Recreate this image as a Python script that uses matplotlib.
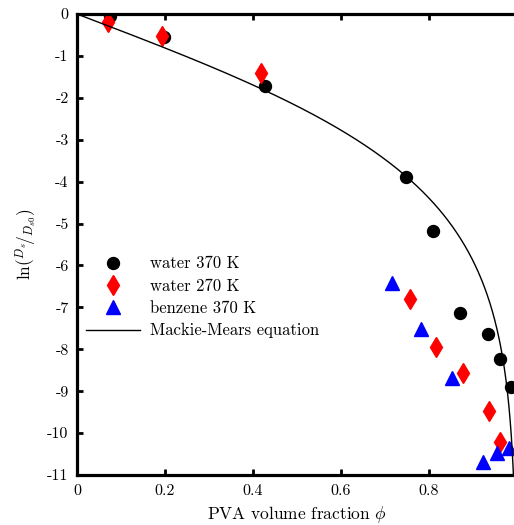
import numpy as np
import matplotlib
matplotlib.use("Agg")
import matplotlib.pyplot as plt

plt.rcParams["font.family"] = ["cmr10", "DejaVu Serif"]
plt.rcParams["mathtext.fontset"] = "cm"

# Self-diffusion data, ln(Ds/Ds0) vs PVA volume fraction
water370_phi = [0.075, 0.198, 0.427, 0.748, 0.809, 0.870, 0.934, 0.961, 0.986]
water370_ln = [-0.05, -0.55, -1.72, -3.89, -5.18, -7.14, -7.64, -8.23, -8.90]

water270_phi = [0.070, 0.193, 0.418, 0.757, 0.816, 0.877, 0.936, 0.961]
water270_ln = [-0.19, -0.52, -1.41, -6.80, -7.95, -8.57, -9.47, -10.21]

benzene370_phi = [0.716, 0.782, 0.852, 0.923, 0.955, 0.982]
benzene370_ln = [-6.42, -7.52, -8.69, -10.69, -10.48, -10.36]

xticks = [0, 0.2, 0.4, 0.6, 0.8]
xtick_labels = ["0", "0.2", "0.4", "0.6", "0.8"]
yticks = list(range(0, -12, -1))
ytick_labels = [str(v) for v in yticks]

# Mackie-Mears obstruction model: Ds/Ds0 = ((1 - phi) / (1 + phi))^2
phi = np.linspace(0, 0.9999, 2000)
mm = 2 * np.log((1 - phi) / (1 + phi))

fig = plt.figure(figsize=(5.14, 5.25), dpi=100)
ax = fig.add_axes([77 / 514, 50 / 525, 440 / 514, 461 / 525])

ax.plot(water370_phi, water370_ln, "o", color="black", ms=8.6, ls="none",
        label="water 370 K")
ax.plot(water270_phi, water270_ln, "d", color="#ff0000", ms=10.5, ls="none",
        label="water 270 K")
ax.plot(benzene370_phi, benzene370_ln, "^", color="#0000ff", ms=10, ls="none",
        label="benzene 370 K")
ax.plot(phi, mm, "-", color="black", lw=1.0, label="Mackie-Mears equation")

ax.set_xlim(0, 1)
ax.set_ylim(-11, 0)
ax.set_xticks(xticks)
ax.set_xticklabels(xtick_labels)
ax.set_yticks(yticks)
ax.set_yticklabels(ytick_labels)

for side in ["left", "bottom", "top"]:
    ax.spines[side].set_linewidth(2.3)
ax.spines["right"].set_visible(False)

ax.tick_params(axis="both", direction="in", length=4, width=2, labelsize=11.5,
               top=True, pad=6)
ax.tick_params(axis="x", pad=7)

ax.set_xlabel(r"PVA volume fraction $\phi$", fontsize=12.5, labelpad=4)
ax.set_ylabel(r"$\ln({}^{D_s}\!/_{D_{s0}})$", fontsize=12.5, labelpad=6)

leg = ax.legend(loc="upper left", bbox_to_anchor=(-0.005, 0.50), frameon=False,
                fontsize=12, handlelength=3.2, handletextpad=0.6,
                labelspacing=0.42, borderaxespad=0.3)

fig.savefig("out.png", dpi=100)
